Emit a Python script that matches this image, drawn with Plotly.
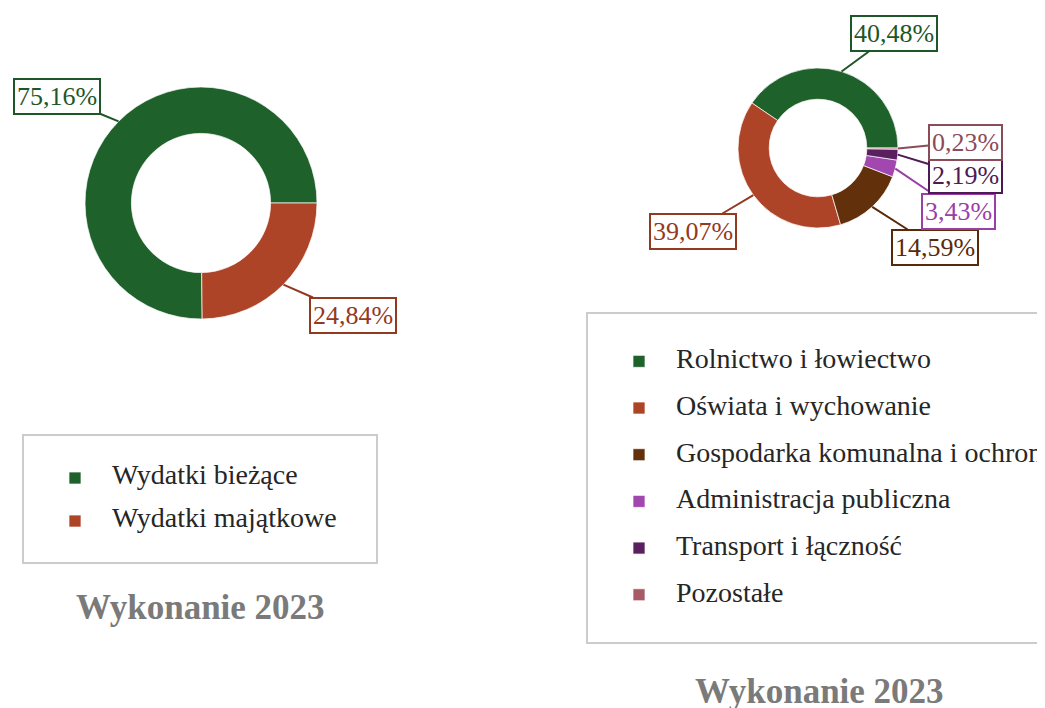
import math
import plotly.graph_objects as go

# page body adds an 8px margin around the figure
PAGE_OFF = 8
W, H = 1045 - PAGE_OFF, 708 - PAGE_OFF
FONT = "Liberation Serif, Times New Roman, serif"

# ---------------- data ----------------
chart1_labels = ["Wydatki bieżące", "Wydatki majątkowe"]
chart1_values = [75.16, 24.84]

chart2_labels = [
    "Rolnictwo i łowiectwo",
    "Oświata i wychowanie",
    "Gospodarka komunalna i ochrona środowiska",
    "Administracja publiczna",
    "Transport i łączność",
    "Pozostałe",
]
chart2_values = [40.48, 39.07, 14.59, 3.43, 2.19, 0.23]

title_text = "Wykonanie 2023"

# ---------------- styles ----------------
chart1_colors = ["#1f612b", "#ad4427"]
chart1_label_colors = ["#1d5727", "#93391f"]
chart2_colors = ["#1f612b", "#ad4427", "#62300a", "#a347b0", "#5a1f5f", "#a85a66"]
chart2_label_colors = ["#1d5727", "#93391f", "#5a2a08", "#9a3fa8", "#4e1a55", "#8c4b59"]

# pie geometry (screen pixels)
PIE1 = dict(cx=201, cy=203, r=116, hole=0.6)
PIE2 = dict(cx=818, cy=148, r=80, hole=0.61)

# label box centres (screen pixels)
LABEL1_POS = [(57, 96), (353, 315)]
LABEL2_POS = [(894, 33), (693, 231), (935, 247), (958, 211), (965, 175), (965, 142)]


def px2x(px):
    return (px - PAGE_OFF) / W


def px2y(py):
    return 1 - (py - PAGE_OFF) / H


def fmt(v):
    return f"{v:.2f}".replace(".", ",") + "%"


def domain(g):
    return dict(
        x=[px2x(g["cx"] - g["r"]), px2x(g["cx"] + g["r"])],
        y=[px2y(g["cy"] + g["r"]), px2y(g["cy"] - g["r"])],
    )


def start_rotation(values):
    # first slice begins at 3 o'clock and slices run counterclockwise
    return 90 - values[0] / sum(values) * 360


def edge_points(values, g):
    total = sum(values)
    acc = 0.0
    pts = []
    for v in values:
        mid = (acc + v / 2) / total * 2 * math.pi
        acc += v
        pts.append((g["cx"] + g["r"] * math.cos(mid), g["cy"] - g["r"] * math.sin(mid)))
    return pts


def legend_label(lab):
    return f'<span style="font-size:28px;baseline-shift:6px">{lab}</span>'


fig = go.Figure()

fig.add_trace(go.Pie(
    labels=[legend_label(l) for l in chart1_labels],
    values=chart1_values,
    hole=PIE1["hole"],
    sort=False,
    direction="counterclockwise",
    rotation=start_rotation(chart1_values),
    textinfo="none",
    marker=dict(colors=chart1_colors, line=dict(color="rgba(255,255,255,0.7)", width=1)),
    domain=domain(PIE1),
    legend="legend",
))

fig.add_trace(go.Pie(
    labels=[legend_label(l) for l in chart2_labels],
    values=chart2_values,
    hole=PIE2["hole"],
    sort=False,
    direction="counterclockwise",
    rotation=start_rotation(chart2_values),
    textinfo="none",
    marker=dict(colors=chart2_colors, line=dict(color="rgba(255,255,255,0.7)", width=1)),
    domain=domain(PIE2),
    legend="legend2",
))

annotations = []
for values, g, pos, cols in [
    (chart1_values, PIE1, LABEL1_POS, chart1_label_colors),
    (chart2_values, PIE2, LABEL2_POS, chart2_label_colors),
]:
    for v, (px, py), (bx, by), c in zip(values, edge_points(values, g), pos, cols):
        annotations.append(dict(
            x=px2x(px), y=px2y(py), xref="paper", yref="paper",
            ax=bx - px, ay=by - py,
            text=fmt(v), showarrow=True, arrowhead=0, arrowwidth=2,
            arrowcolor=c, standoff=0,
            font=dict(family=FONT, size=26, color=c),
            bordercolor=c, borderwidth=2, borderpad=2, bgcolor="white",
        ))

for cx, cy in [(200, 607), (819, 691)]:
    annotations.append(dict(
        x=px2x(cx), y=px2y(cy), xref="paper", yref="paper",
        text=f"<b>{title_text}</b>", showarrow=False,
        xanchor="center", yanchor="middle",
        font=dict(family=FONT, size=35, color="#7a7a7a"),
    ))

shapes = [
    dict(type="rect", xref="paper", yref="paper",
         x0=px2x(23), x1=px2x(377), y0=px2y(563), y1=px2y(435),
         line=dict(color="#cccccc", width=2), fillcolor="rgba(0,0,0,0)", layer="below"),
    dict(type="rect", xref="paper", yref="paper",
         x0=px2x(587), x1=px2x(1100), y0=px2y(643), y1=px2y(313),
         line=dict(color="#cccccc", width=2), fillcolor="rgba(0,0,0,0)", layer="below"),
]

fig.update_layout(
    width=W, height=H,
    margin=dict(l=0, r=0, t=0, b=0, autoexpand=False),
    paper_bgcolor="white",
    plot_bgcolor="white",
    font=dict(family=FONT, color="#262626"),
    showlegend=True,
    legend=dict(
        x=px2x(38), y=px2y(451.5), xanchor="left", yanchor="top",
        font=dict(family=FONT, size=30.8, color="#262626"),
        itemwidth=64, bgcolor="rgba(0,0,0,0)", borderwidth=0,
    ),
    legend2=dict(
        x=px2x(602), y=px2y(333), xanchor="left", yanchor="top",
        font=dict(family=FONT, size=33.6, color="#262626"),
        itemwidth=64, bgcolor="rgba(0,0,0,0)", borderwidth=0,
    ),
    annotations=annotations,
    shapes=shapes,
)

fig.write_html("out.html")
